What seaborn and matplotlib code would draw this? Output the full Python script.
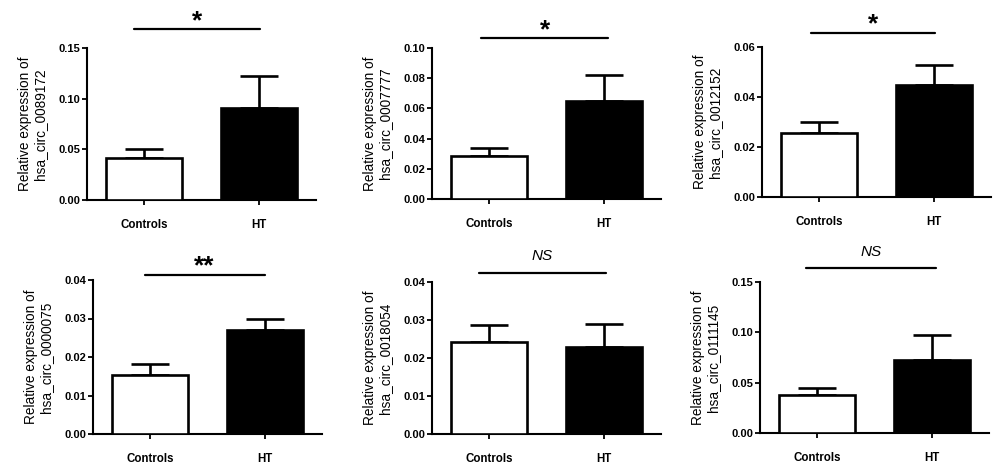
import matplotlib
matplotlib.use("Agg")
import matplotlib.pyplot as plt
import matplotlib.transforms as mtransforms
import seaborn as sns
import pandas as pd

# ---------------- data ----------------
genes = ["hsa_circ_0089172", "hsa_circ_0007777", "hsa_circ_0012152",
         "hsa_circ_0000075", "hsa_circ_0018054", "hsa_circ_0111145"]
groups = ["Controls", "HT"]
control_mean = [0.041, 0.0283, 0.0257, 0.0154, 0.0242, 0.038]
control_err = [0.009, 0.0057, 0.0043, 0.0028, 0.0045, 0.007]
ht_mean = [0.0907, 0.065, 0.0447, 0.027, 0.023, 0.073]
ht_err = [0.0317, 0.017, 0.008, 0.003, 0.0059, 0.024]
y_max = [0.15, 0.10, 0.06, 0.04, 0.04, 0.15]
y_step = [0.05, 0.02, 0.02, 0.01, 0.01, 0.05]
sig_labels = ["*", "*", "*", "**", "NS", "NS"]

# ---------------- layout (pixels) ----------------
W, H = 1003, 471
boxes = [(87, 48, 229, 152), (432, 48, 229, 151), (762, 47, 229, 150),
         (93, 280, 229, 154), (432, 282, 229, 152), (760, 282, 229, 151)]
sig_line_px = [19, 10, 14, 5, 9, 14]
sig_text_px = [33, 24, 29, 20, 26, 30]
sig_x = [(-0.09, 1.01), (-0.07, 1.04), (-0.07, 1.01), (-0.05, 1.0),
         (-0.09, 1.02), (-0.10, 1.04)]

sns.set_style("ticks")
plt.rcParams["font.family"] = ["Liberation Sans", "DejaVu Sans"]
plt.rcParams["text.color"] = "black"
plt.rcParams["axes.labelcolor"] = "black"

fig = plt.figure(figsize=(W / 100, H / 100), dpi=100)
fig.patch.set_facecolor("white")

for i, gene in enumerate(genes):
    l, t, w, h = boxes[i]
    ax = fig.add_axes([l / W, 1 - (t + h) / H, w / W, h / H])
    df = pd.DataFrame({"group": groups,
                       "value": [control_mean[i], ht_mean[i]]})
    sns.barplot(data=df, x="group", y="value", hue="group",
                palette=["white", "black"], edgecolor="black",
                linewidth=1.9, width=0.66, errorbar=None, legend=False,
                ax=ax, zorder=3)
    ax.errorbar([0, 1], [control_mean[i], ht_mean[i]],
                yerr=[[0, 0], [control_err[i], ht_err[i]]],
                fmt="none", ecolor="black", elinewidth=1.9,
                capsize=13.7, capthick=1.9, zorder=2)
    ax.set_xlim(-0.5, 1.5)
    ax.set_ylim(0, y_max[i])
    n = int(round(y_max[i] / y_step[i]))
    ticks = [k * y_step[i] for k in range(n + 1)]
    ax.set_yticks(ticks)
    ax.set_yticklabels([f"{v:.2f}" for v in ticks])
    ax.set_xlabel("")
    ax.set_ylabel("Relative expression of\n" + gene, fontsize=9.8,
                  labelpad=8, linespacing=1.1, color="black")
    for s in ["top", "right"]:
        ax.spines[s].set_visible(False)
    for s in ["left", "bottom"]:
        ax.spines[s].set_linewidth(1.5)
        ax.spines[s].set_color("black")
    ax.tick_params(axis="y", length=3.5, width=1.3, pad=1.5, labelsize=8,
                   colors="black")
    ax.tick_params(axis="x", length=3.5, width=1.3, pad=10, labelsize=8.3,
                   colors="black")
    for lab in ax.get_yticklabels() + ax.get_xticklabels():
        lab.set_fontweight("bold")
    ax.set_facecolor("white")

    trans = mtransforms.blended_transform_factory(ax.transData, ax.transAxes)
    yl = 1 + sig_line_px[i] / h
    ax.plot(list(sig_x[i]), [yl, yl], color="black", lw=1.6,
            transform=trans, clip_on=False)
    yt = 1 + sig_text_px[i] / h
    xm = (sig_x[i][0] + sig_x[i][1]) / 2
    if sig_labels[i] == "NS":
        ax.text(xm, yt, "NS", style="italic", fontsize=11, ha="center",
                va="center", transform=trans, color="black")
    else:
        ax.text(xm, yt - 0.04, sig_labels[i], fontsize=19, ha="center",
                va="center", transform=trans, color="black",
                fontweight="bold")

fig.savefig("out.png", dpi=100, facecolor="white")
